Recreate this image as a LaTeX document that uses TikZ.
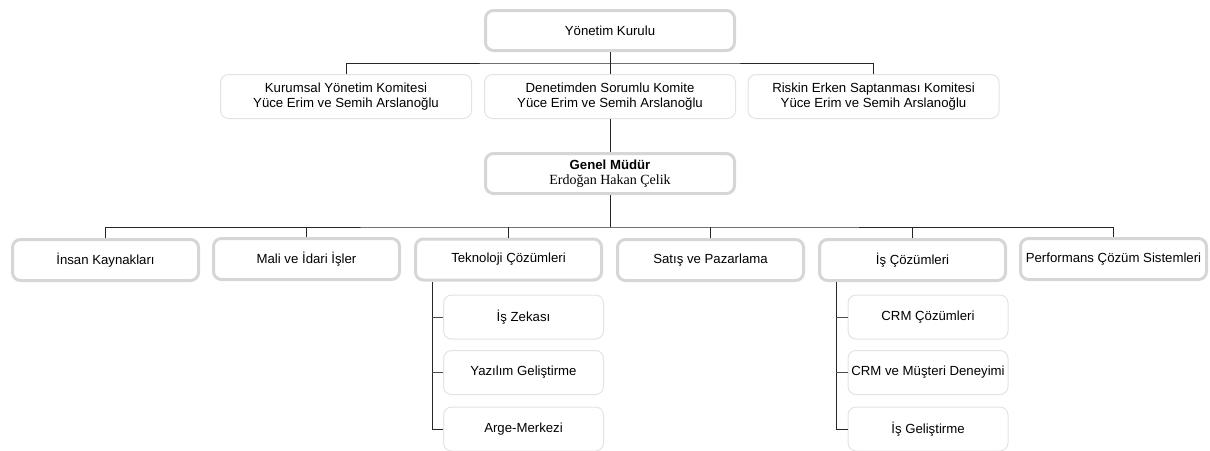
\documentclass[tikz,border=0pt]{standalone}
\usepackage{fontspec}
\setmainfont{Liberation Sans}
\newfontfamily\serifname{Liberation Serif}
\begin{document}
\begin{tikzpicture}[x=1pt,y=-1pt,
  thickbox/.style={draw=black!16,line width=3pt,rounded corners=8pt,fill=white,
    inner sep=0pt,align=center,font=\fontsize{13.2}{15.5}\selectfont},
  thinbox/.style={draw=black!11,line width=1pt,rounded corners=8pt,fill=white,
    inner sep=0pt,align=center,font=\fontsize{13.2}{15.5}\selectfont},
  conn/.style={draw=black!85,line width=0.9pt},
  tick/.style={draw=black!70,line width=0.9pt}]
\useasboundingbox (0,0) rectangle (1210,450);
% top
\node[thickbox,minimum width=249pt,minimum height=40pt] (yk) at (610,30.5) {Yönetim Kurulu};
\node[thinbox,minimum width=251pt,minimum height=44pt] (kur) at (346,96.5) {Kurumsal Yönetim Komitesi\\Yüce Erim ve Semih Arslanoğlu};
\node[thinbox,minimum width=251pt,minimum height=44pt] (den) at (610,96.5) {Denetimden Sorumlu Komite\\Yüce Erim ve Semih Arslanoğlu};
\node[thinbox,minimum width=251pt,minimum height=44pt] (ris) at (873.5,96.5) {Riskin Erken Saptanması Komitesi\\Yüce Erim ve Semih Arslanoğlu};
\node[thickbox,minimum width=249pt,minimum height=40pt] (gm) at (610,173.5) {\textbf{Genel Müdür}\\[-1pt]{\serifname\fontsize{14}{15.5}\selectfont Erdoğan Hakan Çelik}};
% row
\node[thickbox,minimum width=186pt,minimum height=41pt] (ik) at (105.5,260) {İnsan Kaynakları};
\node[thickbox,minimum width=186pt,minimum height=41pt] (mi) at (306.5,259) {Mali ve İdari İşler};
\node[thickbox,minimum width=186pt,minimum height=41pt] (tc) at (508.5,259.5) {Teknoloji Çözümleri};
\node[thickbox,minimum width=186pt,minimum height=41pt] (sp) at (710.5,260) {Satış ve Pazarlama};
\node[thickbox,minimum width=186pt,minimum height=41pt] (ic) at (912.5,260) {İş Çözümleri};
\node[thickbox,minimum width=186pt,minimum height=41pt] (pc) at (1113.5,259) {Performans Çözüm Sistemleri};
% subs
\node[thinbox,minimum width=160pt,minimum height=44pt] (t1) at (523.5,317) {İş Zekası};
\node[thinbox,minimum width=160pt,minimum height=44pt] (t2) at (523.5,372.5) {Yazılım Geliştirme};
\node[thinbox,minimum width=160pt,minimum height=44pt] (t3) at (523.5,429) {Arge-Merkezi};
\node[thinbox,minimum width=160pt,minimum height=44pt] (c1) at (928,317) {CRM Çözümleri};
\node[thinbox,minimum width=160pt,minimum height=44pt] (c2) at (928,372.5) {CRM ve Müşteri Deneyimi};
\node[thinbox,minimum width=160pt,minimum height=44pt] (c3) at (928,429) {İş Geliştirme};
% coordinates
\coordinate (b1) at (610,63);
\coordinate (b2) at (610,227);
\coordinate (tv) at (432,0);
\coordinate (cv) at (836,0);
% connectors
\draw[conn] (yk.south) -- (den.north);
\draw[conn] (kur.north) |- (b1) -| (ris.north);
\draw[conn] (den.south) -- (gm.north);
\draw[conn] (gm.south) -- (b2);
\draw[conn] (ik.north) |- (b2) -| (pc.north);
\draw[conn] (mi.north) -- (mi.north |- b2);
\draw[conn] (tc.north) -- (tc.north |- b2);
\draw[conn] (sp.north) -- (sp.north |- b2);
\draw[conn] (ic.north) -- (ic.north |- b2);
\draw[conn] (tv |- tc.south) -- (tv |- t3.west) -- (t3.west);
\draw[tick] (tv |- t1.west) -- (t1.west);
\draw[tick] (tv |- t2.west) -- (t2.west);
\draw[conn] (cv |- ic.south) -- (cv |- c3.west) -- (c3.west);
\draw[tick] (cv |- c1.west) -- (c1.west);
\draw[tick] (cv |- c2.west) -- (c2.west);
\end{tikzpicture}
\end{document}
